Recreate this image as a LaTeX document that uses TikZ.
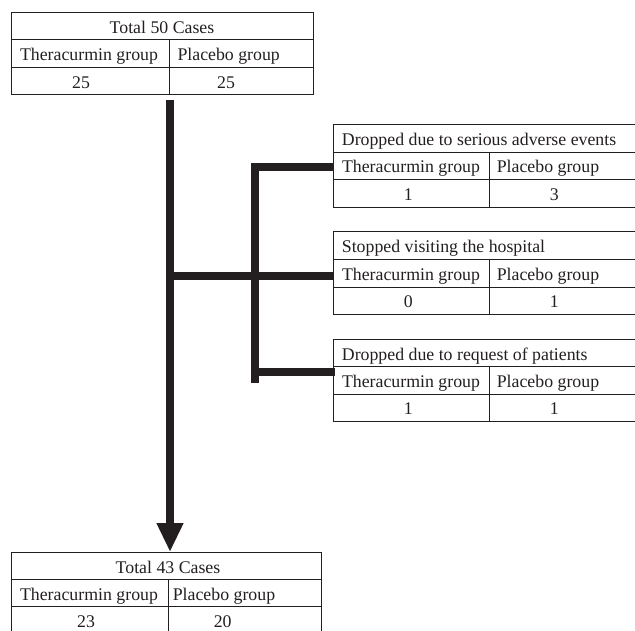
\documentclass[tikz,border=0pt]{standalone}
\usepackage{fontspec}
\setmainfont{Liberation Serif}
\usetikzlibrary{arrows.meta}
\definecolor{ink}{HTML}{231F20}
\begin{document}
\begin{tikzpicture}[x=1pt,y=-1pt,
  tline/.style={line width=0.9pt, draw=ink},
  tbox/.style={draw=ink, line width=0.9pt, inner sep=0pt, outer sep=0pt, anchor=north west},
  bar/.style={line width=8pt, draw=ink},
  txt/.style={anchor=base, inner sep=0pt, text=ink, font=\fontsize{17.8}{20}\selectfont},
  ltxt/.style={txt, anchor=base west}]
\useasboundingbox (0,0) rectangle (635,630);
% ---- top table
\node[tbox, minimum width=301.3pt, minimum height=81.6pt] (top) at (11.7,12.7) {};
\draw[tline] (11.7,39.3) -- (313,39.3);
\draw[tline] (11.7,67.7) -- (313,67.7);
\draw[tline] (169.3,39.3) -- (169.3,94.3);
\node[txt] (topT) at (162,33) {Total 50 Cases};
\node[txt] (topA) at (89,60.5) {Theracurmin group};
\node[txt] (topB) at (228.7,60.5) {Placebo group};
\node[txt] (topNa) at (81,88) {25};
\node[txt] (topNb) at (226,88) {25};
% ---- bottom table
\node[tbox, minimum width=310pt, minimum height=90pt] (bot) at (11.7,552) {};
\draw[tline] (11.7,579) -- (321.7,579);
\draw[tline] (11.7,606) -- (321.7,606);
\draw[tline] (168,579) -- (168,642);
\node[txt] (botT) at (168,573) {Total 43 Cases};
\node[txt] (botA) at (89,600) {Theracurmin group};
\node[txt] (botB) at (224,600) {Placebo group};
\node[txt] (botNa) at (86,627) {23};
\node[txt] (botNb) at (222.7,627) {20};
% ---- right tables
\node[tbox, minimum width=320pt, minimum height=83pt] (t1) at (333.3,124.3) {};
\draw[tline] (333.3,152.3) -- (655,152.3);
\draw[tline] (333.3,179.3) -- (655,179.3);
\draw[tline] (489.3,152.3) -- (489.3,207.3);
\node[ltxt] (t1T) at (341.7,145) {Dropped due to serious adverse events};
\node[txt] (t1A) at (411,172.5) {Theracurmin group};
\node[txt] (t1B) at (548,172.5) {Placebo group};
\node[txt] (t1Na) at (408.3,200) {1};
\node[txt] (t1Nb) at (554.3,200) {3};
%
\node[tbox, minimum width=320pt, minimum height=82.3pt] (t2) at (333.3,231.7) {};
\draw[tline] (333.3,259.3) -- (655,259.3);
\draw[tline] (333.3,287.3) -- (655,287.3);
\draw[tline] (489.3,259.3) -- (489.3,314);
\node[ltxt] (t2T) at (341.7,252.5) {Stopped visiting the hospital};
\node[txt] (t2A) at (411,280) {Theracurmin group};
\node[txt] (t2B) at (548,280) {Placebo group};
\node[txt] (t2Na) at (408.3,307) {0};
\node[txt] (t2Nb) at (554.3,307) {1};
%
\node[tbox, minimum width=320pt, minimum height=81.7pt] (t3) at (333.3,339.3) {};
\draw[tline] (333.3,366.7) -- (655,366.7);
\draw[tline] (333.3,394.3) -- (655,394.3);
\draw[tline] (489.3,366.7) -- (489.3,421);
\node[ltxt] (t3T) at (341.7,360) {Dropped due to request of patients};
\node[txt] (t3A) at (411,387.5) {Theracurmin group};
\node[txt] (t3B) at (548,387.5) {Placebo group};
\node[txt] (t3Na) at (408.3,414.5) {1};
\node[txt] (t3Nb) at (554.3,414.5) {1};
% ---- connectors
\coordinate (m) at (170,100);
\coordinate (s) at (255.3,163);
\draw[bar, -{Triangle[length=29pt,width=25pt]}] (m) -- (bot.north -| m);
\draw[bar] (166,275.7) -- (t2.west |- 0,275.7);
\draw[bar] (s) -- (255.3,383);
\draw[bar] (251.3,167.3) -- (t1.west |- 0,167.3);
\draw[bar] (251.3,372.3) -- ([xshift=2pt]t3.west |- 0,372.3);
\end{tikzpicture}
\end{document}
